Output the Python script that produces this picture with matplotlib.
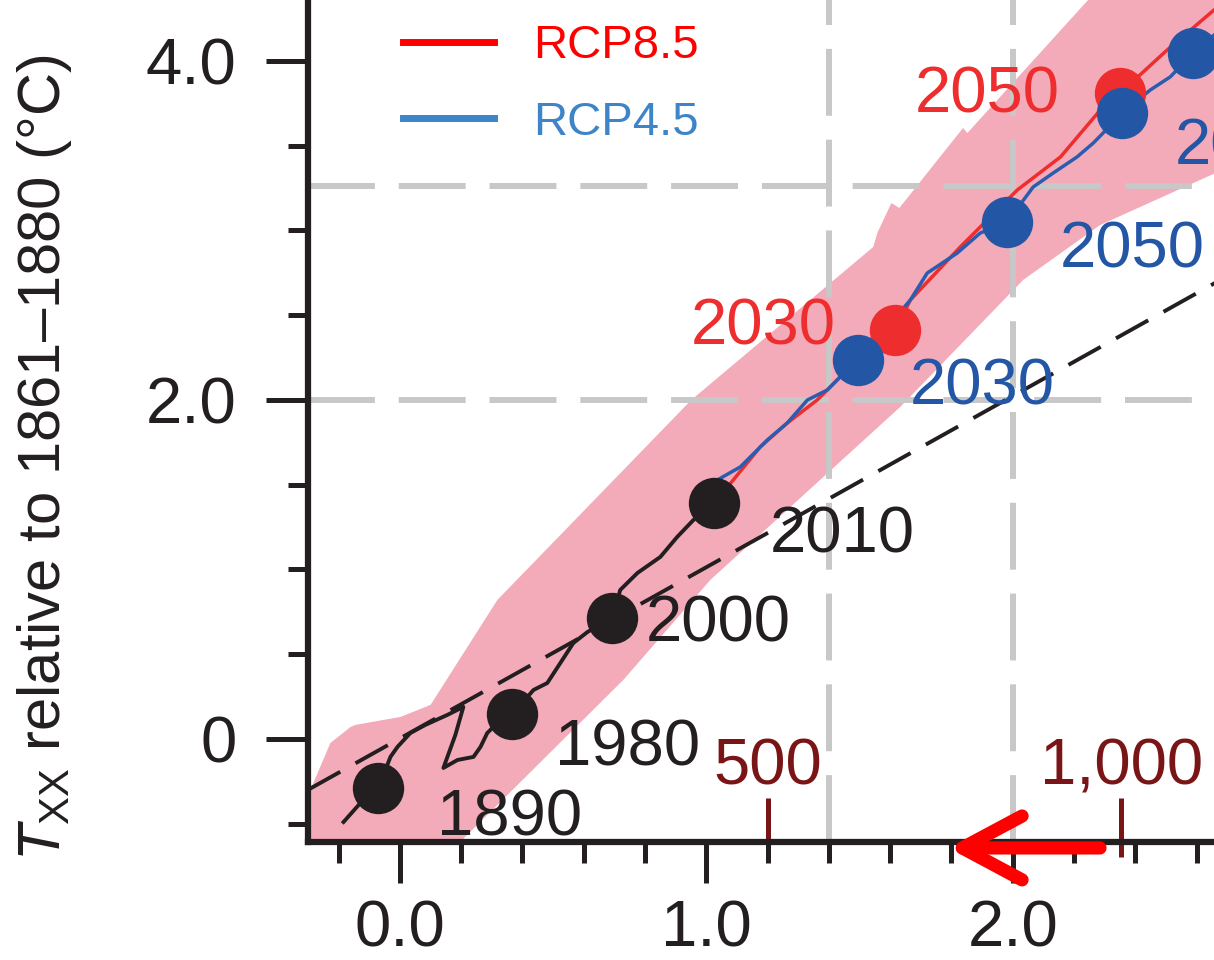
import numpy as np
import matplotlib
matplotlib.use("Agg")
import matplotlib.pyplot as plt
from matplotlib.lines import Line2D

plt.rcParams['font.family'] = ['Liberation Sans', 'DejaVu Sans']
plt.rcParams['mathtext.fontset'] = 'custom'
plt.rcParams['mathtext.rm'] = 'Liberation Sans'
plt.rcParams['mathtext.it'] = 'Liberation Sans:italic'

# ====================== DATA ======================
# observed record (black wiggle)
obs_x = [-0.184, -0.129, -0.070, -0.031, -0.008, 0.034, 0.083, 0.155, 0.207,
         0.181, 0.142, 0.188, 0.240, 0.263, 0.285, 0.318, 0.367, 0.436, 0.481,
         0.566, 0.612, 0.693, 0.719, 0.775, 0.850, 0.905, 0.958, 1.026]
obs_y = [-0.490, -0.378, -0.289, -0.106, -0.047, 0.035, 0.083, 0.142, 0.189,
         0.024, -0.171, -0.124, -0.106, -0.047, 0.035, 0.094, 0.147, 0.289, 0.330,
         0.566, 0.631, 0.714, 0.879, 0.979, 1.074, 1.192, 1.292, 1.392]

# RCP8.5 projection
rcp85_x = [1.026, 1.088, 1.176, 1.264, 1.362, 1.437, 1.519, 1.617, 1.666,
           1.829, 2.015, 2.156, 2.286, 2.351, 2.504, 2.657]
rcp85_y = [1.392, 1.528, 1.723, 1.864, 2.000, 2.136, 2.295, 2.413, 2.590,
           2.903, 3.239, 3.434, 3.711, 3.811, 4.065, 4.301]

# RCP4.5 projection
rcp45_x = [1.026, 1.036, 1.111, 1.199, 1.264, 1.330, 1.395, 1.437, 1.496,
           1.568, 1.666, 1.721, 1.819, 1.894, 1.982, 2.067, 2.132, 2.210,
           2.263, 2.295, 2.357, 2.449, 2.514, 2.589, 2.657]
rcp45_y = [1.392, 1.528, 1.605, 1.764, 1.864, 2.000, 2.059, 2.136, 2.236,
           2.383, 2.590, 2.749, 2.867, 2.985, 3.050, 3.257, 3.339, 3.434,
           3.516, 3.575, 3.693, 3.829, 3.906, 4.047, 4.153]

# year markers
obs_years = ['1890', '1980', '2000', '2010']
obs_dot_x = [-0.070, 0.367, 0.693, 1.026]
obs_dot_y = [-0.289, 0.147, 0.714, 1.392]

rcp85_years = ['2030', '2050']
rcp85_dot_x = [1.617, 2.351]
rcp85_dot_y = [2.413, 3.811]

rcp45_years = ['2030', '2050', '2070', '']
rcp45_dot_x = [1.496, 1.982, 2.357, 2.589]
rcp45_dot_y = [2.236, 3.050, 3.693, 4.047]

# uncertainty band (pink)
band_up_x = [-0.30, -0.285, -0.227, -0.161, -0.145, 0.002, 0.100, 0.318, 0.951,
             1.545, 1.558, 1.604, 1.630, 1.838, 1.852, 2.246, 2.70]
band_up_y = [-0.30, -0.271, -0.024, 0.071, 0.083, 0.130, 0.201, 0.820, 2.000,
             2.903, 2.985, 3.162, 3.133, 3.605, 3.575, 4.360, 4.60]
band_lo_x = [-0.30, 0.145, 0.729, 1.013, 1.633, 2.034, 2.285, 2.70]
band_lo_y = [-0.70, -0.70, 0.348, 0.938, 1.959, 2.708, 3.032, 3.37]

# 1:1 reference line
ref_x = [-0.30, 2.66]
ref_y = [-0.30, 2.69]

# grey reference levels
ref_h = [2.0, 3.26]
ref_v = [1.4, 2.0]

# cumulative emission ticks (secondary scale)
emis_vals = [500, 1000]
emis_labels = ['500', '1,000']
emis_pos = [1.20, 2.354]

# arrow along the bottom axis
arrow_tail_x = 2.285
arrow_tip_x = 1.790
arrow_y = -0.643

# axis ticks
xmaj = [0.0, 1.0, 2.0]
xmaj_lab = ['0.0', '1.0', '2.0']
ymaj = [0.0, 2.0, 4.0]
ymaj_lab = ['0', '2.0', '4.0']

# ====================== COLOURS ======================
C_BAND = '#F4ABB9'
C_BLACK = '#231F20'
C_RED = '#EE2E2E'
C_BLUE = '#2456A6'
C_LINE_BLUE = '#2A5DB0'
C_GREY = '#C8C8C8'
C_DARKRED = '#7A1517'

# ====================== PLOT ======================
fig = plt.figure(figsize=(12.14, 9.6), dpi=100)
ax = fig.add_axes([308 / 1214, 118 / 960, 906 / 1214, 842 / 960])
ax.set_xlim(-0.30, 2.657)
ax.set_ylim(-0.608, 4.360)

band_x = band_up_x + band_lo_x[::-1]
band_y = band_up_y + band_lo_y[::-1]
ax.fill(band_x, band_y, color=C_BAND, lw=0, zorder=1)

for yv in ref_h:
    ax.axhline(yv, color=C_GREY, lw=4.3, ls=(0, (11.2, 4.0)), zorder=2)
for xv in ref_v:
    ax.axvline(xv, color=C_GREY, lw=4.3, ls=(0, (11.2, 4.0)), zorder=2)

ax.plot(ref_x, ref_y, color=C_BLACK, lw=2.8, ls=(0, (9.5, 4.5)), zorder=3)

ax.plot(obs_x, obs_y, color=C_BLACK, lw=2.8, zorder=4)
ax.plot(rcp85_x, rcp85_y, color=C_RED, lw=2.5, zorder=4)
ax.plot(rcp45_x, rcp45_y, color=C_LINE_BLUE, lw=2.5, zorder=5)

ax.plot(obs_dot_x, obs_dot_y, 'o', ms=37, color=C_BLACK, mew=0, zorder=6)
ax.plot(rcp85_dot_x, rcp85_dot_y, 'o', ms=37, color=C_RED, mew=0, zorder=6)
ax.plot(rcp45_dot_x, rcp45_dot_y, 'o', ms=37, color=C_BLUE, mew=0, zorder=7)

# year labels (offsets in points)
FS = 47
obs_off = [(42.5, -34.6), (31, -36.7), (23.8, -17.3), (40.3, -35.3)]
for lab, x, y, off in zip(obs_years, obs_dot_x, obs_dot_y, obs_off):
    ax.annotate(lab, (x, y), xytext=off, textcoords='offset points',
                ha='left', va='baseline', fontsize=FS, color=C_BLACK, zorder=8)
r85_off = [(-43.2, -10.8), (-43.2, -13.7)]
for lab, x, y, off in zip(rcp85_years, rcp85_dot_x, rcp85_dot_y, r85_off):
    ax.annotate(lab, (x, y), xytext=off, textcoords='offset points',
                ha='right', va='baseline', fontsize=FS, color=C_RED, zorder=8)
r45_off = [(37.4, -32.4), (38.2, -32.4), (38.2, -37.4), (0, 0)]
for lab, x, y, off in zip(rcp45_years, rcp45_dot_x, rcp45_dot_y, r45_off):
    if lab:
        ax.annotate(lab, (x, y), xytext=off, textcoords='offset points',
                    ha='left', va='baseline', fontsize=FS, color=C_BLUE,
                    zorder=8, annotation_clip=False)

# axes styling
for s in ['top', 'right']:
    ax.spines[s].set_visible(False)
for s in ['left', 'bottom']:
    ax.spines[s].set_linewidth(4.5)
    ax.spines[s].set_color(C_BLACK)
    ax.spines[s].set_zorder(9)

ax.set_xticks(xmaj, labels=xmaj_lab)
ax.set_xticks(np.arange(-0.2, 2.61, 0.2), minor=True)
ax.set_yticks(ymaj, labels=ymaj_lab)
ax.set_yticks(np.arange(-0.5, 4.01, 0.5), minor=True)
ax.tick_params(axis='x', which='major', length=29.5, width=3.6, color=C_BLACK,
               labelsize=FS, pad=12, labelcolor=C_BLACK)
ax.tick_params(axis='x', which='minor', length=15, width=3.6, color=C_BLACK)
ax.tick_params(axis='y', which='major', length=30, width=3.6, color=C_BLACK,
               labelsize=FS, pad=21.5, labelcolor=C_BLACK)
ax.tick_params(axis='y', which='minor', length=14.5, width=3.6, color=C_BLACK)

fig.text(45 / 1214, 1 - 458 / 960,
         r'$T_{\mathrm{XX}}$ relative to 1861–1880 (°C)',
         rotation=90, ha='center', va='center', fontsize=43, color=C_BLACK)

# secondary scale: cumulative emissions
slope = (emis_pos[1] - emis_pos[0]) / (emis_vals[1] - emis_vals[0])


def temp_to_emis(x):
    return emis_vals[0] + (np.asarray(x) - emis_pos[0]) / slope


def emis_to_temp(e):
    return emis_pos[0] + (np.asarray(e) - emis_vals[0]) * slope


sec = ax.secondary_xaxis(-15 / 842, functions=(temp_to_emis, emis_to_temp))
sec.set_xticks(emis_vals, labels=emis_labels)
sec.xaxis.set_minor_locator(matplotlib.ticker.NullLocator())
sec.xaxis.set_ticks_position('top')
sec.tick_params(axis='x', which='major', direction='out', length=42.5, width=3.6,
                color=C_DARKRED, labelcolor=C_DARKRED, labelsize=FS, pad=0,
                top=True, bottom=False, labeltop=True, labelbottom=False)
for s in sec.spines.values():
    s.set_visible(False)

# legend
handles = [Line2D([], [], color='#FF0000', lw=5),
           Line2D([], [], color='#3D85C8', lw=5)]
ax.legend(handles, ['RCP8.5', 'RCP4.5'], loc='upper left',
          bbox_to_anchor=(0.1049, 0.971), frameon=False, fontsize=34,
          handlelength=1.93, handletextpad=0.83, labelspacing=0.68,
          borderpad=0, borderaxespad=0,
          labelcolor=['#FF0000', '#3D85C8'])

# red arrow
ax.annotate('', xy=(arrow_tip_x, arrow_y), xytext=(arrow_tail_x, arrow_y),
            arrowprops=dict(arrowstyle='->,head_length=4.3,head_width=2.3',
                            lw=9.5, color='#FF0000', shrinkA=0, shrinkB=0,
                            mutation_scale=10, capstyle='round',
                            joinstyle='round'),
            annotation_clip=False, zorder=10)

fig.savefig('out.png', dpi=100)
